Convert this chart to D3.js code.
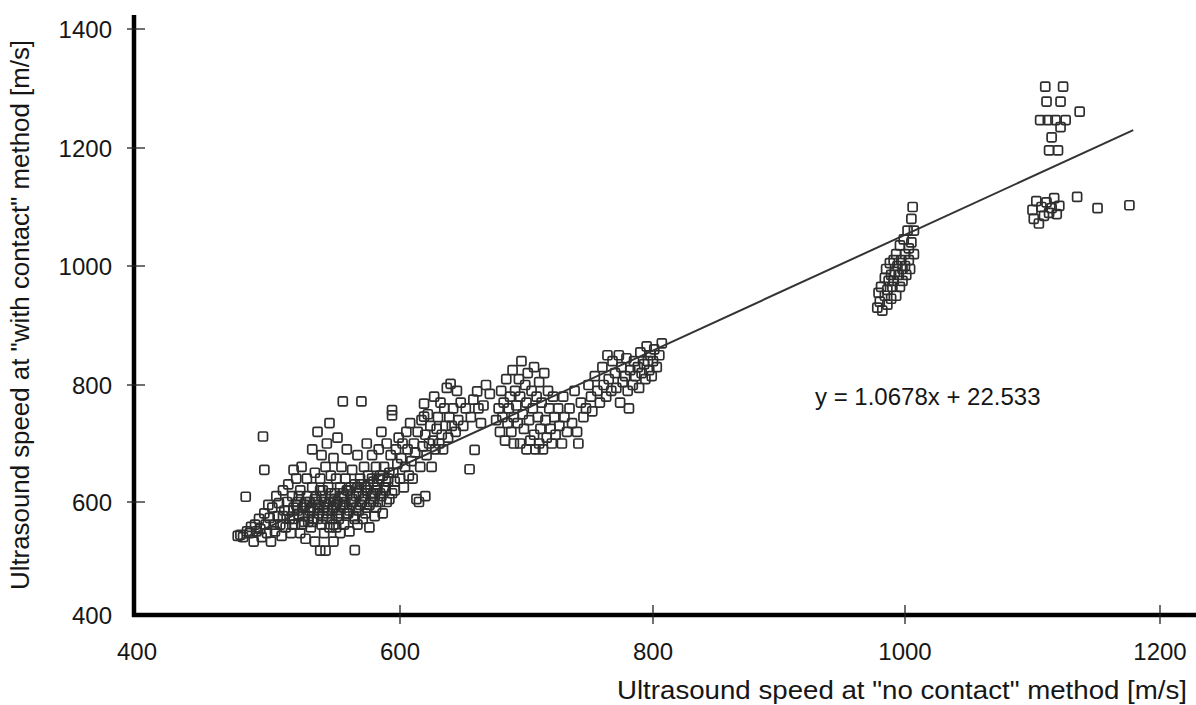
<html>
<head>
<style>
body { margin: 0; background: #fff; }
text { font-family: "Liberation Sans", Arial, sans-serif; fill: #161616; }
</style>
</head>
<body>
<svg width="1196" height="705"></svg>
<script src="https://d3js.org/d3.v7.min.js"></script>
<script>
// ticks of both axes
var xTicks = [400, 600, 800, 1000, 1200];
var yTicks = [400, 600, 800, 1000, 1200, 1400];

// trend line as drawn in the figure (ends) and its printed equation
var trendLine = [[478, 531], [1179, 1230]];
var eqLabel = "y = 1.0678x + 22.533";

var xTitle = "Ultrasound speed at \"no contact\" method [m/s]";
var yTitle = "Ultrasound speed at \"with contact\" method [m/s]";

// measurements, [no contact, with contact] in m/s, read off the picture cluster by cluster
var pts480 = [[478,540],[480,542],[482,538],[484,609],[485,548],[487,545],[488,556],[490,530],[491,560],[492,548],
  [494,570],[495,552],[496,538],[497,712],[498,655],[498,580],[499,560],[500,545],[501,595],[502,572],[503,530],
  [504,590],[505,560],[506,548],[507,610],[508,575],[509,598],[510,560],[511,540],[512,620],[513,585],[514,555],
  [515,600],[516,630],[517,570],[518,545],[519,610],[520,590],[520,655],[521,560],[522,640],[523,600],[524,578],
  [525,545],[525,620],[526,660],[527,590],[528,565],[529,535],[530,610],[530,640]];
var pts530 = [[531,575],[532,600],[533,555],[534,690],[534,625],[535,585],[536,530],[536,650],[537,610],[538,570],
  [538,720],[539,595],[540,514],[540,640],[541,560],[541,680],[542,620],[543,545],[543,600],[544,514],[544,660],
  [545,580],[545,700],[546,625],[547,555],[547,735],[548,605],[548,645],[549,570],[550,590],[550,530],[550,675],
  [551,615],[552,555],[552,640],[553,600],[553,710],[554,580],[555,625],[555,545],[556,660],[557,595],[557,772],
  [558,610],[558,560],[559,640],[560,580],[560,690]];
var ptsCore = [[512,575],[516,585],[519,560],[522,595],[524,610],[527,575],[529,600],[532,585],[534,565],[536,605],
  [538,590],[540,620],[542,575],[544,600],[546,585],[548,615],[550,560],[552,595],[554,570],[556,610],[558,590],
  [560,620],[562,585],[564,605],[566,570],[568,625],[570,595],[572,610],[574,580],[576,630],[578,600],[580,615],
  [582,590],[584,640],[586,610],[588,625],[590,600],[592,650],[594,615],[596,635],
  [533,590],[535,570],[537,600],[539,580],[541,610],[543,590],[545,570],[547,600],[549,585],[551,605],[553,575],
  [555,595],[557,615],[559,600],[561,580],[563,625],[565,600],[567,610],[569,585],[571,630],[573,605],[575,620],
  [577,595],[579,640],[581,610],[583,630],[585,615],[587,645],[589,620],[591,635],[520,570],[523,585],[526,560],
  [528,595],[531,565]];
var pts560 = [[561,620],[562,548],[563,600],[564,655],[565,575],[566,515],[566,630],[567,590],[568,680],[568,560],
  [569,615],[570,640],[571,772],[571,600],[572,570],[573,660],[574,625],[575,590],[575,700],[576,645],[577,555],
  [578,615],[579,680],[580,600],[580,635],[581,575],[582,660],[583,620],[584,690],[585,600],[585,645],[586,720],
  [587,580],[588,660],[589,625],[590,700],[591,640],[592,605],[593,680],[594,757],[594,748],[595,650],[596,620],
  [597,690],[598,665],[599,710],[600,640]];
var pts600 = [[601,675],[602,700],[603,625],[604,660],[605,720],[606,690],[607,645],[608,735],[609,670],[610,640],
  [611,700],[612,685],[613,605],[614,720],[615,600],[616,660],[617,740],[618,695],[619,768],[619,746],[620,610],
  [620,715],[621,680],[622,750],[623,700],[624,730],[625,660],[626,705],[627,780],[628,690],[629,725],[630,745],
  [631,700],[632,770],[633,715],[634,690],[635,760],[636,730],[637,795],[638,710],[639,745],[640,802],[641,730],
  [642,760],[644,720],[645,790],[646,740],[648,770],[650,730],[652,760],[655,656],[656,745],[658,775],[659,689],
  [661,789],[662,760],[664,735],[666,765],[668,800],[671,785]];
var pts700 = [[676,740],[678,760],[679,720],[680,790],[681,745],[682,770],[683,705],[684,810],[685,735],[686,760],
  [687,780],[688,720],[689,825],[690,745],[690,700],[691,790],[692,765],[693,735],[694,810],[695,700],[695,780],
  [696,840],[697,750],[698,725],[699,800],[700,690],[700,770],[701,820],[702,740],[703,705],[704,790],[705,760],
  [706,830],[706,715],[707,690],[708,780],[709,745],[710,805],[710,700],[711,725],[712,770],[713,690],[714,820],
  [715,740],[716,710],[717,790],[718,760],[719,725],[720,700],[721,780],[722,745],[723,715],[725,760],[726,730],
  [728,700],[729,780],[730,745],[732,720],[734,760],[736,735],[738,790],[740,720],[741,700],[743,770],[745,745]];
var pts780 = [[747,760],[749,800],[751,780],[752,755],[754,815],[756,790],[758,770],[760,830],[761,800],[763,780],
  [764,850],[765,810],[767,790],[768,840],[770,820],[771,795],[773,850],[774,770],[775,830],[776,805],[778,815],
  [779,845],[780,790],[781,760],[782,825],[784,800],[785,840],[786,815],[788,830],[789,795],[790,855],[791,820],
  [793,835],[794,810],[795,865],[796,840],[797,825],[798,850],[799,815],[800,840],[801,860],[803,830],[805,850],[807,870]];
var pts990 = [[978,930],[979,955],[980,940],[981,965],[982,925],[984,980],[984,950],[985,995],[986,960],[986,935],
  [987,975],[988,1005],[989,945],[989,985],[990,965],[991,1010],[991,975],[992,990],[993,950],[993,1020],[994,1000],
  [995,985],[996,965],[996,1035],[997,1010],[998,995],[998,975],[999,1045],[1000,1020],[1000,1000],[1001,985],
  [1002,1060],[1003,1030],[1003,1010],[1004,995],[1005,1080],[1005,1040],[1006,1100],[1007,1020],[1007,1060]];
var pts1120 = [[1106,1247],[1110,1303],[1111,1278],[1112,1247],[1113,1196],[1115,1218],[1118,1247],[1120,1196],
  [1122,1278],[1122,1235],[1124,1303],[1126,1247],[1137,1261],
  [1100,1095],[1101,1080],[1103,1110],[1105,1072],[1107,1100],[1109,1085],[1111,1108],[1113,1090],[1115,1098],
  [1117,1115],[1119,1088],[1121,1102],
  [1135,1117],[1151,1098],[1176,1103]];

var points = [].concat(pts480, pts530, ptsCore, pts560, pts600, pts700, pts780, pts990, pts1120);

var svg = d3.select("svg");

// scanned figure: tick spacing is not quite even, so a piecewise scale
var x = d3.scaleLinear().domain(xTicks).range([134, 400, 653, 905, 1160]);
var y = d3.scaleLinear().domain(yTicks).range([615, 502, 385, 266, 148, 29]);

// points
var s = 9;
svg.append("g").selectAll("rect")
  .data(points)
  .enter().append("rect")
  .attr("x", function(d){ return x(d[0]) - s/2 })
  .attr("y", function(d){ return y(d[1]) - s/2 })
  .attr("width", s)
  .attr("height", s)
  .attr("rx", 1.5)
  .style("fill", "none")
  .style("stroke", "#2e2e2e")
  .style("stroke-width", 1.7);

// trend line
var line = d3.line().x(function(d){ return x(d[0]) }).y(function(d){ return y(d[1]) });
svg.append("path")
  .datum(trendLine)
  .attr("d", line)
  .style("fill", "none")
  .style("stroke", "#333")
  .style("stroke-width", 2);

// axes
var xAxis = svg.append("g").attr("transform", "translate(0," + y(400) + ")");
xAxis.append("line").attr("x1", x(400) - 2).attr("x2", 1196)
  .style("stroke", "#000").style("stroke-width", 4.5);
xAxis.selectAll(".tk").data(xTicks.slice(1)).enter().append("line")
  .attr("x1", x).attr("x2", x).attr("y1", -10).attr("y2", 9)
  .style("stroke", "#222").style("stroke-width", 1.3);
xAxis.selectAll("text").data(xTicks).enter().append("text")
  .attr("x", function(d){ return x(d) + (d == 400 ? 3 : 0) })
  .attr("y", 45)
  .attr("text-anchor", "middle")
  .style("font-size", "24px")
  .text(function(d){ return d });

var yAxis = svg.append("g").attr("transform", "translate(" + x(400) + ",0)");
yAxis.append("line").attr("y1", y(400) + 2).attr("y2", 15)
  .style("stroke", "#000").style("stroke-width", 4.5);
yAxis.selectAll(".tk").data(yTicks.slice(1)).enter().append("line")
  .attr("y1", y).attr("y2", y).attr("x1", -7).attr("x2", 11)
  .style("stroke", "#222").style("stroke-width", 1.3);
yAxis.selectAll("text").data(yTicks).enter().append("text")
  .attr("x", -22)
  .attr("y", function(d){ return y(d) + 8.5 })
  .attr("text-anchor", "end")
  .style("font-size", "24px")
  .text(function(d){ return d });

// titles and equation
svg.append("text")
  .attr("x", 617).attr("y", 699)
  .attr("textLength", 570).attr("lengthAdjust", "spacingAndGlyphs")
  .style("font-size", "25px")
  .text(xTitle);
svg.append("text")
  .attr("transform", "translate(29,590) rotate(-90)")
  .attr("textLength", 550).attr("lengthAdjust", "spacingAndGlyphs")
  .style("font-size", "25px")
  .text(yTitle);
svg.append("text")
  .attr("x", 815).attr("y", 405)
  .style("font-size", "24px")
  .text(eqLabel);
</script>
</body>
</html>
